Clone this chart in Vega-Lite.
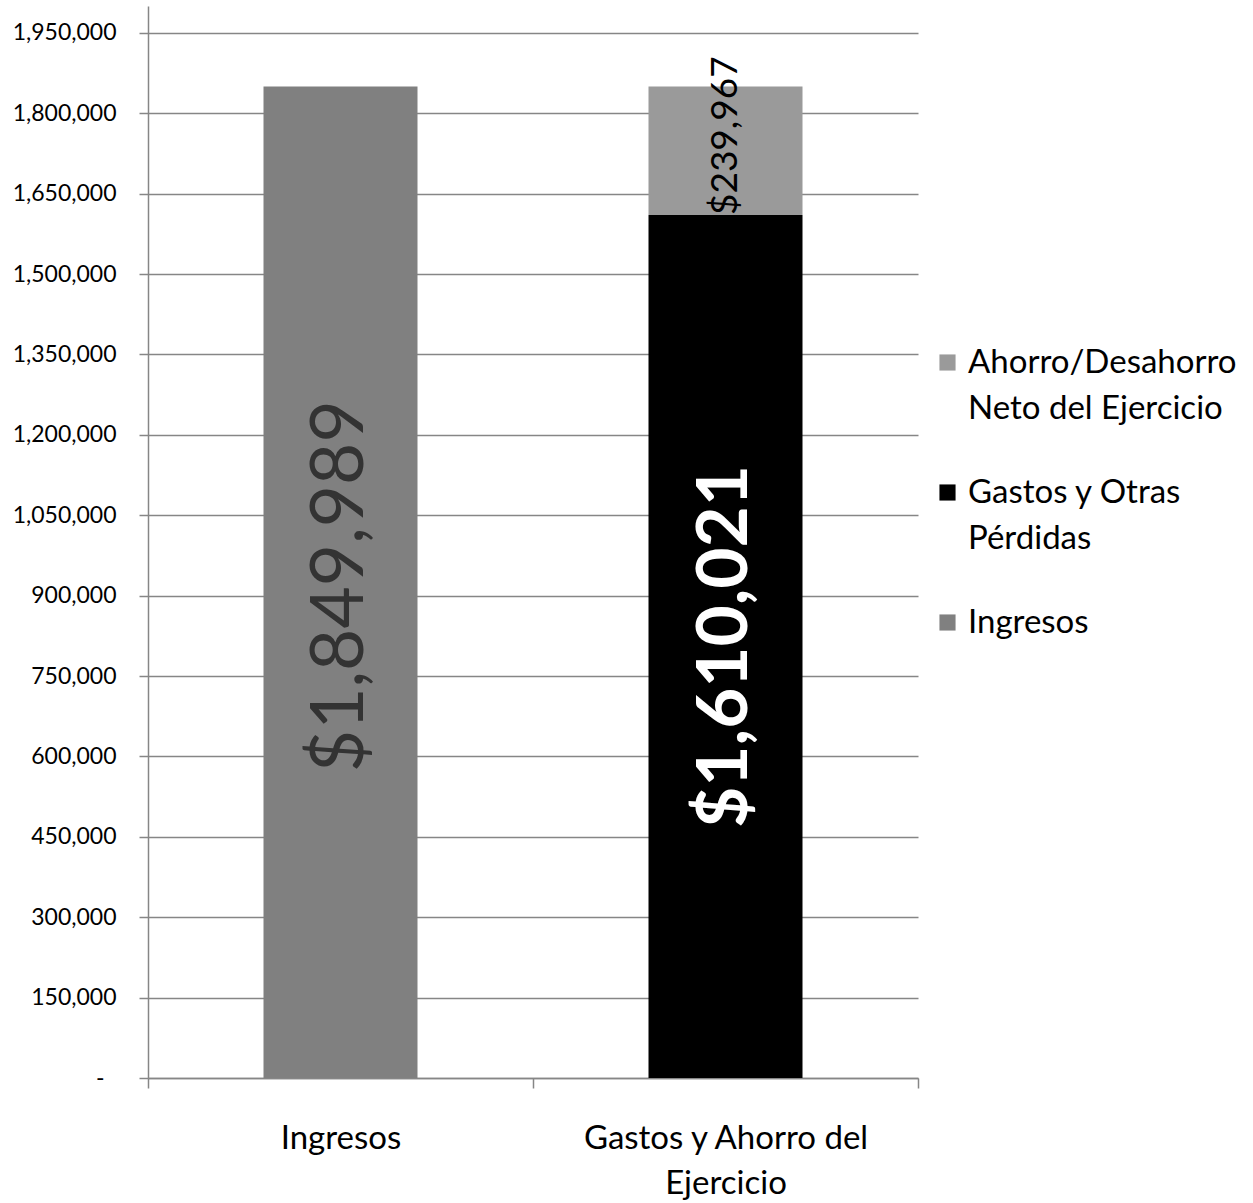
{
  "$schema": "https://vega.github.io/schema/vega-lite/v6.json",
  "width": 770,
  "height": 1072,
  "autosize": "none",
  "padding": {"left": 148, "top": 6, "right": 335, "bottom": 125},
  "background": "white",
  "config": {
    "view": {"stroke": null},
    "font": "Lato",
    "text": {"font": "Lato"}
  },
  "data": {
    "values": [
      {"cat": "Ingresos", "serie": "Ingresos", "value": 1849989, "label": "$1,849,989"},
      {"cat": "Gastos y Ahorro del Ejercicio", "serie": "Gastos y Otras Pérdidas", "value": 1610021, "label": "$1,610,021"},
      {"cat": "Gastos y Ahorro del Ejercicio", "serie": "Ahorro/Desahorro Neto del Ejercicio", "value": 239967, "label": "$239,967"}
    ]
  },
  "encoding": {
    "x": {
      "field": "cat",
      "type": "nominal",
      "sort": ["Ingresos", "Gastos y Ahorro del Ejercicio"],
      "scale": {"paddingInner": 0, "paddingOuter": 0},
      "axis": {
        "title": null,
        "labelAngle": 0,
        "labelFont": "Lato",
        "labelFontSize": 33,
        "labelColor": "#000000",
        "labelLineHeight": 45,
        "labelPadding": 34,
        "labelLimit": 500,
        "labelExpr": "datum.label == 'Gastos y Ahorro del Ejercicio' ? ['Gastos y Ahorro del', 'Ejercicio'] : datum.label",
        "tickBand": "extent",
        "tickSize": 10,
        "tickColor": "#868686",
        "tickWidth": 1.5,
        "domainColor": "#868686",
        "domainWidth": 1.5,
        "grid": false
      }
    }
  },
  "layer": [
    {
      "mark": {"type": "bar", "width": {"band": 0.4}},
      "encoding": {
        "y": {
          "field": "value",
          "type": "quantitative",
          "stack": "zero",
          "scale": {"domain": [0, 2000000], "nice": false},
          "axis": {
            "title": null,
            "values": [0, 150000, 300000, 450000, 600000, 750000, 900000, 1050000, 1200000, 1350000, 1500000, 1650000, 1800000, 1950000],
            "labelExpr": "datum.value == 0 ? '-' : format(datum.value, ',')",
            "labelFont": "Lato",
            "labelFontSize": 23,
            "labelColor": "#000000",
            "labelPadding": {"condition": {"test": "datum.value == 0", "value": 35}, "value": 23},
            "tickSize": 9,
            "tickColor": "#868686",
            "tickWidth": 1.5,
            "domainColor": "#868686",
            "domainWidth": 1.5,
            "gridColor": "#868686",
            "gridWidth": 1.6,
            "gridOpacity": 1
          }
        },
        "color": {
          "field": "serie",
          "type": "nominal",
          "scale": {
            "domain": ["Ahorro/Desahorro Neto del Ejercicio", "Gastos y Otras Pérdidas", "Ingresos"],
            "range": ["#9a9a9a", "#000000", "#808080"]
          },
          "legend": {
            "title": null,
            "orient": "none",
            "legendX": 783,
            "legendY": 340,
            "symbolType": "square",
            "symbolSize": 260,
            "symbolStrokeWidth": 0,
            "labelFont": "Lato",
            "labelFontSize": 33,
            "labelColor": "#000000",
            "labelLimit": 400,
            "labelOffset": 4,
            "rowPadding": 50,
            "labelExpr": "datum.label == 'Ahorro/Desahorro Neto del Ejercicio' ? ['Ahorro/Desahorro', 'Neto del Ejercicio'] : datum.label == 'Gastos y Otras Pérdidas' ? ['Gastos y Otras', 'Pérdidas'] : datum.label",
            "encode": {"labels": {"update": {"lineHeight": {"value": 46}}}}
          }
        },
        "order": {"field": "serie", "sort": "descending"}
      }
    },
    {
      "transform": [
        {"stack": "value", "groupby": ["cat"], "sort": [{"field": "serie", "order": "descending"}], "as": ["v0", "v1"]},
        {"filter": "datum.serie == 'Ingresos'"},
        {"fold": ["v0", "v1"], "as": ["edge", "pos"]}
      ],
      "mark": {"type": "text", "angle": 270, "fontSize": 73, "color": "#333333", "align": "center", "baseline": "middle", "font": "Lato", "dx": -4},
      "encoding": {
        "y": {"field": "pos", "aggregate": "mean", "type": "quantitative"},
        "text": {"field": "label"}
      }
    },
    {
      "transform": [
        {"stack": "value", "groupby": ["cat"], "sort": [{"field": "serie", "order": "descending"}], "as": ["v0", "v1"]},
        {"filter": "datum.serie == 'Gastos y Otras Pérdidas'"},
        {"fold": ["v0", "v1"], "as": ["edge", "pos"]}
      ],
      "mark": {"type": "text", "angle": 270, "fontSize": 71, "fontWeight": "bold", "color": "#ffffff", "align": "center", "baseline": "middle", "font": "Lato"},
      "encoding": {
        "y": {"field": "pos", "aggregate": "mean", "type": "quantitative"},
        "text": {"field": "label"}
      }
    },
    {
      "transform": [
        {"stack": "value", "groupby": ["cat"], "sort": [{"field": "serie", "order": "descending"}], "as": ["v0", "v1"]},
        {"filter": "datum.serie == 'Ahorro/Desahorro Neto del Ejercicio'"},
        {"fold": ["v0", "v1"], "as": ["edge", "pos"]}
      ],
      "mark": {"type": "text", "angle": 270, "fontSize": 37, "color": "#000000", "align": "center", "baseline": "middle", "font": "Lato", "dx": 15},
      "encoding": {
        "y": {"field": "pos", "aggregate": "mean", "type": "quantitative"},
        "text": {"field": "label"}
      }
    }
  ]
}
